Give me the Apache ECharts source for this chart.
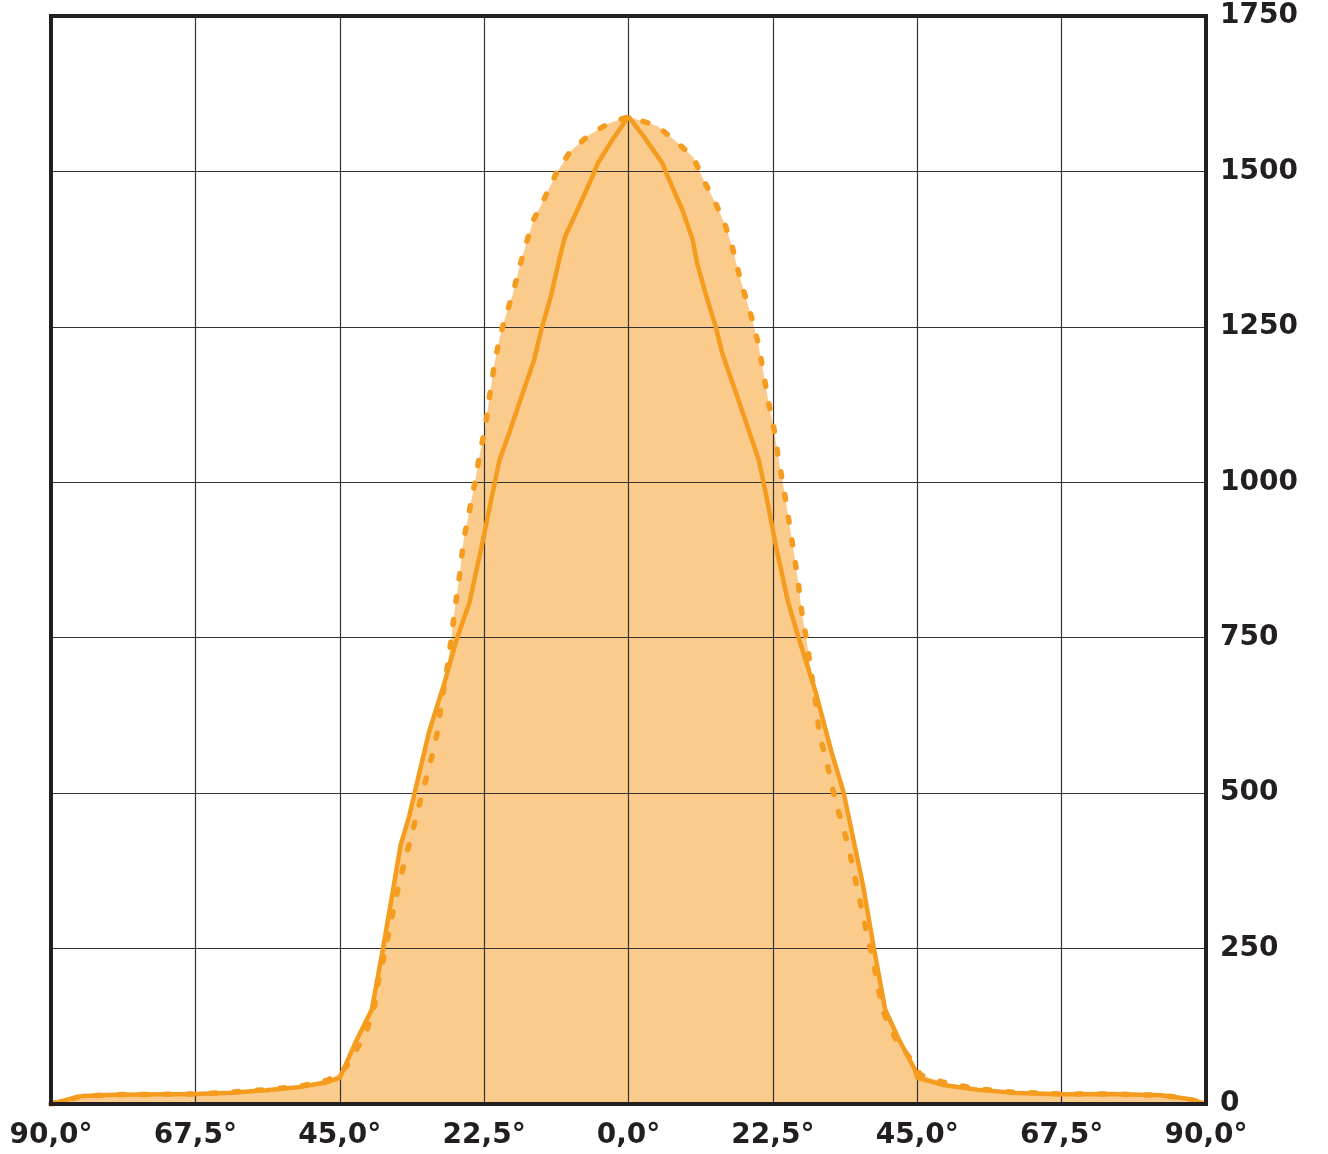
<!DOCTYPE html>
<html>
<head>
<meta charset="utf-8">
<title>Lichtverteilung</title>
<script src="https://cdn.jsdelivr.net/npm/echarts@6/dist/echarts.min.js"></script>
<style>
  html, body { margin: 0; padding: 0; background: #fff; }
  #chart { width: 1328px; height: 1154px; }
</style>
</head>
<body>
<div id="chart"></div>
<script>
// winkel (grad) und werte
const solidAngles = [-90, -87.5, -85, -80, -67.5, -62, -56.5, -51.5, -47, -45, -42.5, -40, -38.3, -36.8, -35.5, -34.2, -32.9, -31.1, -28.7, -26.7, -24.8, -23, -21.4, -20.1, -18.6, -16.5, -14.7, -13.6, -12.1, -10.8, -9.9, -7.7, -5.6, -4.8, -2.5, 0, 2.4, 5.3, 6.1, 8.4, 10, 10.7, 12, 13.6, 14.6, 16.4, 18.2, 20.3, 21.4, 23.1, 24.9, 26.5, 29.1, 31.7, 33.5, 35, 36.6, 38.2, 40, 42, 44.6, 45, 49.3, 54.4, 60.6, 67.5, 75.3, 83, 87, 90]
const solidValues = [0, 7, 13, 15, 16, 18, 22, 27, 35, 42, 100, 152, 248, 338, 417, 462, 519, 598, 677, 750, 806, 891, 972, 1036, 1079, 1143, 1197, 1245, 1299, 1358, 1395, 1444, 1492, 1513, 1551, 1588, 1556, 1513, 1492, 1438, 1390, 1352, 1304, 1250, 1208, 1154, 1100, 1036, 982, 891, 806, 750, 665, 564, 502, 428, 349, 253, 152, 107, 56, 42, 30, 23, 17.5, 15.5, 16, 14, 8.5, 0]

const dottedAngles = [-90, -85, -80, -67.5, -62, -56.5, -51, -47, -45.5, -44, -42.5, -40.7, -39.6, -39, -38.1, -37.3, -36.5, -35.6, -34.6, -33.6, -32.6, -31.6, -30.6, -29.8, -29.1, -28.2, -27.6, -27, -26.3, -25.7, -24, -23.2, -22.3, -21.7, -20.9, -20.1, -19.1, -18, -17.1, -16, -14.8, -13, -11.3, -9.1, -6.1, -2.9, 0, 4.5, 7.4, 10.1, 11.8, 13.7, 15.1, 16.2, 17.2, 18.2, 19.3, 20.2, 21, 21.8, 22.7, 23.4, 24.2, 25.7, 26.4, 27, 27.8, 29.2, 29.8, 30.9, 31.8, 32.7, 33.9, 34.8, 35.6, 36.4, 37.3, 38.2, 38.9, 39.8, 41.5, 43.9, 45.5, 49, 54, 60, 67.5, 75, 83, 87, 90]
const dottedValues = [0, 13, 15, 16, 19, 23, 29, 38, 46, 60, 85, 121, 157, 197, 238, 279, 319, 361, 402, 441, 482, 521, 561, 598, 648, 705, 750, 801, 852, 907, 996, 1044, 1090, 1135, 1189, 1232, 1269, 1304, 1342, 1382, 1422, 1459, 1496, 1532, 1559, 1578, 1588, 1573, 1548, 1523, 1484, 1446, 1413, 1377, 1336, 1299, 1261, 1224, 1178, 1130, 1084, 1036, 990, 891, 843, 792, 742, 643, 592, 550, 507, 471, 428, 389, 349, 310, 267, 228, 186, 146, 107, 73, 47, 35, 25, 19, 16, 16, 14, 9, 0]

const xTicks = [-90, -67.5, -45, -22.5, 0, 22.5, 45, 67.5, 90]
const yTicks = [0, 250, 500, 750, 1000, 1250, 1500, 1750]

const lineColor = '#f59b1e'
const fillColor = '#fbcb8b'
const darkColor = '#231f20'

function pairs (xs, ys) {
  return xs.map((x, i) => [x, ys[i]])
}

const chart = echarts.init(document.getElementById('chart'), null, { renderer: 'canvas' })

chart.setOption({
  animation: false,
  backgroundColor: '#fff',
  grid: {
    left: 51,
    right: 122,
    top: 16,
    bottom: 50,
    show: true,
    z: 10,
    borderColor: darkColor,
    borderWidth: 4,
    backgroundColor: 'transparent'
  },
  xAxis: {
    type: 'value',
    min: xTicks[0],
    max: xTicks[xTicks.length - 1],
    interval: 22.5,
    z: 3,
    axisLine: { show: false },
    axisTick: { show: false },
    splitLine: { lineStyle: { color: '#333', width: 1.2 } },
    axisLabel: {
      margin: 18,
      color: darkColor,
      fontFamily: 'DejaVu Sans',
      fontWeight: 'bold',
      fontSize: 28,
      formatter: function (v) {
        return Math.abs(v).toFixed(1).replace('.', ',') + '°'
      }
    }
  },
  yAxis: {
    type: 'value',
    position: 'right',
    min: yTicks[0],
    max: yTicks[yTicks.length - 1],
    interval: 250,
    z: 3,
    axisLine: { show: false },
    axisTick: { show: false },
    splitLine: { lineStyle: { color: '#333', width: 1.2 } },
    axisLabel: {
      margin: 14,
      color: darkColor,
      fontFamily: 'DejaVu Sans',
      fontWeight: 'bold',
      fontSize: 28,
      formatter: function (v) {
        return String(v)
      },
      rich: {}
    }
  },
  series: [
    // flaechen unter beiden kurven
    {
      type: 'line',
      z: 1,
      symbol: 'none',
      data: pairs(dottedAngles, dottedValues),
      lineStyle: { width: 0 },
      areaStyle: { color: fillColor, opacity: 1 }
    },
    {
      type: 'line',
      z: 1,
      symbol: 'none',
      data: pairs(solidAngles, solidValues),
      lineStyle: { width: 0 },
      areaStyle: { color: fillColor, opacity: 1 }
    },
    // linien
    {
      type: 'line',
      z: 5,
      symbol: 'none',
      data: pairs(dottedAngles, dottedValues),
      lineStyle: { color: lineColor, width: 5.5, type: [5, 18], cap: 'round' }
    },
    {
      type: 'line',
      z: 5,
      symbol: 'none',
      data: pairs(solidAngles, solidValues),
      lineStyle: { color: lineColor, width: 4.5 }
    }
  ]
})
</script>
</body>
</html>
